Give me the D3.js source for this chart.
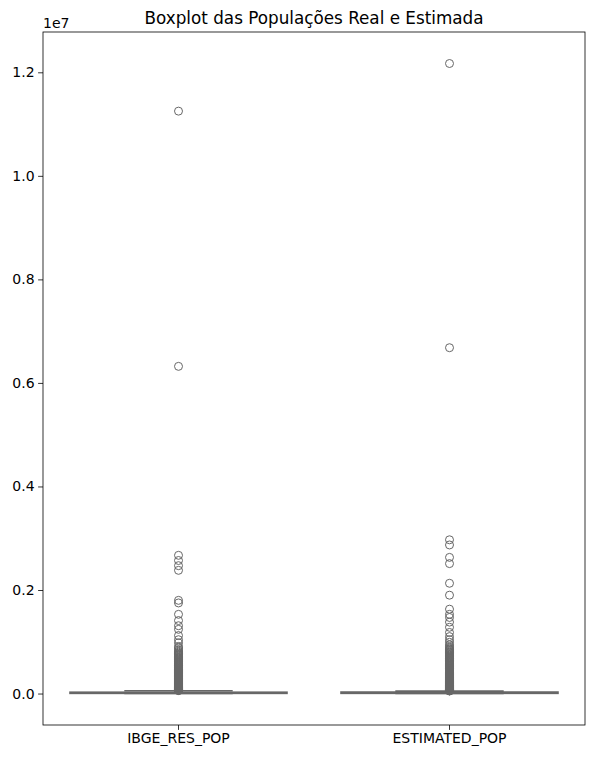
<!DOCTYPE html>
<html>
<head>
<meta charset="utf-8">
<script src="https://cdn.jsdelivr.net/npm/d3@7"></script>
<style>
  html, body { margin: 0; padding: 0; background: #fff; }
  svg { display: block; font-family: "DejaVu Sans", sans-serif; }
</style>
</head>
<body>
<svg id="chart" width="594" height="759"></svg>
<script>
// ---- data (values in inhabitants) ----
const categories = ["IBGE_RES_POP", "ESTIMATED_POP"];
// box statistics: [min, q1, median, q3, upperWhisker]
const ibgeStats = [800, 5200, 11000, 24000, 54000];
const estStats = [900, 5600, 12500, 27000, 46000];
// outliers in millions
const ibgeOutliersM = [11.25, 6.32, 2.67, 2.57, 2.47, 2.38, 1.80, 1.75, 1.53, 1.41, 1.31, 1.24, 1.12, 1.04, 0.98, 0.91,
  0.88, 0.85, 0.82, 0.80, 0.78, 0.765,
  0.75, 0.735, 0.72, 0.705, 0.69, 0.68, 0.665, 0.65, 0.64, 0.625, 0.61, 0.60, 0.585, 0.57, 0.56, 0.545, 0.535, 0.52,
  0.51, 0.495, 0.485, 0.47, 0.46, 0.45, 0.44, 0.43, 0.42, 0.41, 0.40, 0.39, 0.38, 0.37, 0.36, 0.352, 0.343, 0.335,
  0.326, 0.318, 0.31, 0.302, 0.295, 0.287, 0.28, 0.272, 0.265, 0.258, 0.25, 0.243, 0.236, 0.229, 0.222, 0.215, 0.208,
  0.202, 0.196, 0.19, 0.184, 0.178, 0.172, 0.166, 0.16, 0.155, 0.15, 0.145, 0.14, 0.135, 0.13, 0.126, 0.122, 0.118,
  0.114, 0.11, 0.106, 0.102, 0.098, 0.094, 0.09, 0.087, 0.084, 0.081, 0.078, 0.075, 0.072, 0.069, 0.066, 0.063, 0.06, 0.057];
const estOutliersM = [12.17, 6.68, 2.97, 2.87, 2.63, 2.51, 2.13, 1.90, 1.63, 1.53, 1.47, 1.38, 1.28, 1.18, 1.10, 1.04,
  0.99, 0.94, 0.91, 0.88,
  0.86, 0.845, 0.83, 0.815, 0.80, 0.785, 0.77, 0.755, 0.74, 0.725, 0.71, 0.695, 0.68, 0.67, 0.655, 0.64, 0.63, 0.615,
  0.60, 0.59, 0.575, 0.565, 0.55, 0.54, 0.525, 0.515, 0.50, 0.49, 0.48, 0.465, 0.455, 0.445, 0.435, 0.425, 0.415,
  0.405, 0.395, 0.385, 0.375, 0.365, 0.356, 0.347, 0.338, 0.33, 0.321, 0.313, 0.305, 0.297, 0.289, 0.281, 0.274,
  0.266, 0.259, 0.252, 0.245, 0.238, 0.231, 0.224, 0.217, 0.21, 0.204, 0.198, 0.192, 0.186, 0.18, 0.174, 0.168,
  0.162, 0.157, 0.152, 0.147, 0.142, 0.137, 0.132, 0.127, 0.123, 0.119, 0.115, 0.111, 0.107, 0.103, 0.099, 0.095,
  0.091, 0.088, 0.085, 0.082, 0.079, 0.076, 0.073, 0.07, 0.067, 0.064, 0.061, 0.058, 0.055, 0.052, 0.049];
const yTicks = [0, 2e6, 4e6, 6e6, 8e6, 10e6, 12e6];
const yTickLabels = ["0.0", "0.2", "0.4", "0.6", "0.8", "1.0", "1.2"];
const title = "Boxplot das Populações Real e Estimada";
const offsetText = "1e7";

// ---- layout ----
const L = 43, R = 585, T = 32, B = 725;
const lineColor = "#676767";
const svg = d3.select("#chart");

const groups = [
  { name: categories[0], stats: ibgeStats, out: ibgeOutliersM.map(v => v * 1e6) },
  { name: categories[1], stats: estStats, out: estOutliersM.map(v => v * 1e6) }
];

const allVals = groups.flatMap(g => g.out.concat(g.stats));
const lo = d3.min(allVals), hi = d3.max(allVals);
const pad = (hi - lo) * 0.05;
const y = d3.scaleLinear().domain([lo - pad, hi + pad]).range([B, T]);
const x = d3.scaleBand().domain(categories).range([L, R]).paddingInner(0).paddingOuter(0);
const bw = x.bandwidth() * 0.8;

// boxes
groups.forEach(g => {
  const cx = x(g.name) + x.bandwidth() / 2;
  const [mn, q1, med, q3, mx] = g.stats;
  const gg = svg.append("g");
  // whiskers
  gg.append("line").attr("x1", cx).attr("x2", cx).attr("y1", y(q3)).attr("y2", y(mx))
    .attr("stroke", lineColor).attr("stroke-width", 1.6);
  gg.append("line").attr("x1", cx).attr("x2", cx).attr("y1", y(q1)).attr("y2", y(mn))
    .attr("stroke", lineColor).attr("stroke-width", 1.6);
  // caps
  [mn, mx].forEach(v => {
    gg.append("line").attr("x1", cx - bw / 4).attr("x2", cx + bw / 4).attr("y1", y(v)).attr("y2", y(v))
      .attr("stroke", lineColor).attr("stroke-width", 1.6);
  });
  // box
  gg.append("rect").attr("x", cx - bw / 2).attr("width", bw)
    .attr("y", y(q3)).attr("height", Math.max(0, y(q1) - y(q3)))
    .attr("fill", "#8c8c8c").attr("stroke", lineColor).attr("stroke-width", 1.8);
  // median
  gg.append("line").attr("x1", cx - bw / 2).attr("x2", cx + bw / 2).attr("y1", y(med)).attr("y2", y(med))
    .attr("stroke", lineColor).attr("stroke-width", 1.6);
  // outliers
  gg.selectAll("circle").data(g.out).join("circle")
    .attr("cx", cx).attr("cy", d => y(d)).attr("r", 4)
    .attr("fill", "none").attr("stroke", lineColor).attr("stroke-width", 1);
});

// axes
const fontPx = "14px";
const yAxis = d3.axisLeft(y).tickValues(yTicks).tickFormat((d, i) => yTickLabels[i]).tickSize(4.9).tickPadding(3.5);
const gy = svg.append("g").attr("transform", `translate(${L},0)`).call(yAxis);
const xAxis = d3.axisBottom(x).tickSize(4.9).tickPadding(3.5);
const gx = svg.append("g").attr("transform", `translate(0,${B})`).call(xAxis);
[gy, gx].forEach(g => {
  g.select(".domain").remove();
  g.selectAll(".tick line").attr("stroke", "#000").attr("stroke-width", 0.8);
  g.selectAll(".tick text").attr("fill", "#000").style("font-size", fontPx).style("font-family", "DejaVu Sans, sans-serif");
});

// frame
svg.append("rect").attr("x", L).attr("y", T).attr("width", R - L).attr("height", B - T)
  .attr("fill", "none").attr("stroke", "#000").attr("stroke-width", 0.8);

// offset text
svg.append("text").attr("x", L).attr("y", 27.5).text(offsetText)
  .style("font-size", fontPx).attr("fill", "#000");

// title
svg.append("text").attr("x", (L + R) / 2).attr("y", 24).attr("text-anchor", "middle")
  .style("font-size", "16.8px").attr("fill", "#000").text(title);
</script>
</body>
</html>
